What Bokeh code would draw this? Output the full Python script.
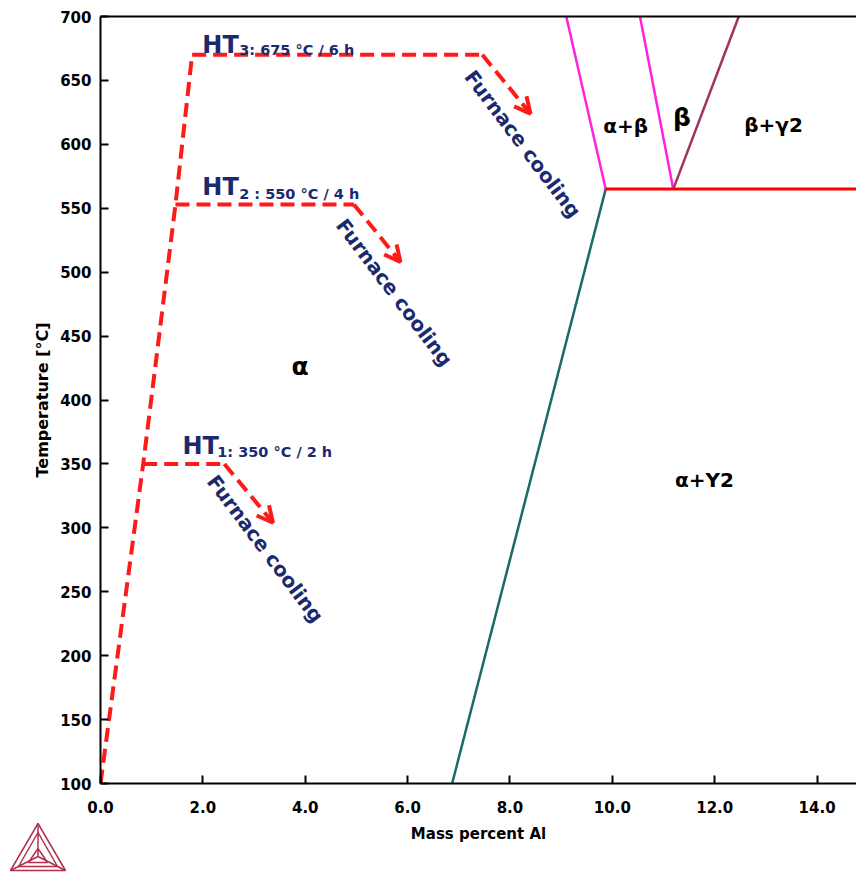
from bokeh.plotting import figure
from bokeh.models import (FixedTicker, LinearAxis, Range1d, Arrow, OpenHead,
                          ColumnDataSource)
from bokeh.layouts import column, row
from bokeh.core.properties import value
from bokeh.embed import file_html
from bokeh.resources import INLINE

# ---------------- data ----------------
x_ticks = [0, 2, 4, 6, 8, 10, 12, 14]
x_tick_labels = ["0.0", "2.0", "4.0", "6.0", "8.0", "10.0", "12.0", "14.0"]
y_ticks = [100, 150, 200, 250, 300, 350, 400, 450, 500, 550, 600, 650, 700]

# heat-treatment path (heating ramp)
ramp_x = [0.0, 0.834, 1.465, 1.79]
ramp_T = [100, 350, 553, 670]
# isothermal holds
hold_start_x = [0.834, 1.465, 1.79]
hold_end_x = [2.42, 4.95, 7.46]
hold_T = [350, 553, 670]
# furnace cooling arrows (end points)
cool_end_x = [3.37, 5.86, 8.40]
cool_end_T = [304, 508, 624]
ht_main = ["HT", "HT", "HT"]
ht_sub = ["1: 350 \u00b0C / 2 h", "2 : 550 \u00b0C / 4 h", "3: 675 \u00b0C / 6 h"]
cool_text = ["Furnace cooling", "Furnace cooling", "Furnace cooling"]

# phase boundaries
solvus_x = [6.87, 9.87]
solvus_T = [100, 565]
eutectoid_x = [9.87, 14.77]
eutectoid_T = [565, 565]
ab_left_x = [9.87, 9.10]
ab_left_T = [565, 700]
b_left_x = [11.19, 10.54]
b_left_T = [565, 700]
b_right_x = [11.19, 12.47]
b_right_T = [565, 700]

phase_labels = ["\u03b1", "\u03b1+\u03b2", "\u03b2", "\u03b2+\u03b32", "\u03b1+Y2"]
x_title = ["Mass percent Al"]

# ---------------- label placement ----------------
ht_main_pos_x = [1.60, 1.99, 1.99]
ht_main_pos_y = [363.8, 566.5, 677.9]
ht_sub_pos_x = [2.28, 2.71, 2.71]
ht_sub_pos_y = [359.1, 561.3, 673.5]
cool_pos_x = [3.22, 5.74, 8.25]
cool_pos_y = [283.6, 484.1, 600.3]
phase_pos_x = [3.90, 10.26, 11.36, 13.15, 11.80]
phase_pos_y = [426.2, 614.0, 621.1, 614.8, 337.7]
phase_sizes = ["25px", "20px", "25px", "20px", "20px"]

NAVY = "#1b2a6e"
RED = "#ff1a1a"
FONT = "DejaVu Sans"
W, H_MAIN, H_FOOT = 856, 822, 50

p = figure(width=W, height=H_MAIN, output_backend="svg", toolbar_location=None,
           x_range=Range1d(0, 14.77), y_range=Range1d(100, 700),
           min_border_left=100, min_border_right=0, min_border_top=16,
           min_border_bottom=39)
p.outline_line_color = None
p.xgrid.visible = False
p.ygrid.visible = False
p.background_fill_color = "white"
p.border_fill_color = "white"

for ax in (p.xaxis[0], p.yaxis[0]):
    ax.axis_line_width = 2
    ax.axis_line_color = "black"
    ax.major_tick_in = 8
    ax.major_tick_out = 0
    ax.major_tick_line_width = 2
    ax.minor_tick_line_color = None
    ax.major_label_text_font = FONT
    ax.major_label_text_font_style = "bold"
    ax.major_label_text_font_size = "15px"
    ax.major_label_text_color = "black"
    ax.axis_label_text_font = FONT
    ax.axis_label_text_font_style = "bold"
    ax.axis_label_text_color = "black"

p.xaxis.ticker = FixedTicker(ticks=x_ticks)
p.xaxis.major_label_overrides = {t: l for t, l in zip(x_ticks, x_tick_labels)}
p.xaxis.major_label_standoff = 17

p.yaxis.ticker = FixedTicker(ticks=y_ticks)
p.yaxis.major_label_standoff = 9
p.yaxis.axis_label = "Temperature [\u00b0C]"
p.yaxis.axis_label_text_font_size = "16px"
p.yaxis.axis_label_standoff = 5

top = LinearAxis(ticker=FixedTicker(ticks=[]), axis_line_width=2,
                 major_tick_line_color=None, minor_tick_line_color=None,
                 major_label_text_font_size="0px", major_label_standoff=0)
p.add_layout(top, "above")

# phase boundaries
p.line(solvus_x, solvus_T, line_color="#1b6a68", line_width=2.5)
p.line(ab_left_x, ab_left_T, line_color="#ff22dd", line_width=2.5)
p.line(b_left_x, b_left_T, line_color="#ff22dd", line_width=2.5)
p.line(b_right_x, b_right_T, line_color="#a3325f", line_width=2.5)
p.line(eutectoid_x, eutectoid_T, line_color="#ff0000", line_width=3)

# heat treatment path
dash = "14 7"
p.line(ramp_x, ramp_T, line_color=RED, line_width=4, line_dash=dash)
p.segment(hold_start_x, hold_T, hold_end_x, hold_T, line_color=RED,
          line_width=4, line_dash=dash)
arr_src = ColumnDataSource(dict(x0=hold_end_x, y0=hold_T, x1=cool_end_x, y1=cool_end_T))
p.add_layout(Arrow(source=arr_src, x_start="x0", y_start="y0", x_end="x1", y_end="y1",
                   line_color=RED, line_width=4, line_dash=dash,
                   end=OpenHead(size=16, line_color=RED, line_width=4)))

# texts
p.text(ht_main_pos_x, ht_main_pos_y, text=ht_main, text_font=value(FONT),
       text_font_style="bold", text_font_size="24px", text_color=NAVY,
       text_align="left", text_baseline="alphabetic")
p.text(ht_sub_pos_x, ht_sub_pos_y, text=ht_sub, text_font=value(FONT),
       text_font_style="bold", text_font_size="14.5px", text_color=NAVY,
       text_align="left", text_baseline="alphabetic")
p.text(cool_pos_x, cool_pos_y, text=cool_text, text_font=value(FONT),
       text_font_style="bold", text_font_size="20px", text_color=NAVY,
       text_align="center", text_baseline="middle", angle=-53, angle_units="deg")
p.text(phase_pos_x, phase_pos_y, text=phase_labels, text_font=value(FONT),
       text_font_style="bold", text_font_size=phase_sizes, text_color="black",
       text_align="center", text_baseline="middle")

# ---------------- footer: x-axis title and Thermo-Calc style logo (pixel units) ----------------
LOGO = "#b0304e"
logo_xs = [[37.5, 10, 65, 37.5], [37.5, 18, 57, 37.5], [37.5, 37.5],
           [37.5, 10], [37.5, 65], [37.5, 28, 47, 37.5]]
logo_ys = [[1, 48, 48, 1], [10, 44, 44, 10], [1, 34],
           [34, 48], [34, 48], [26, 40, 40, 26]]
foot = figure(width=W, height=H_FOOT, output_backend="svg", toolbar_location=None,
              x_range=Range1d(0, W), y_range=Range1d(H_FOOT, 0),
              x_axis_location=None, y_axis_location=None,
              min_border=0, min_border_left=0, min_border_right=0,
              min_border_top=0, min_border_bottom=0)
foot.outline_line_color = None
foot.xgrid.visible = False
foot.ygrid.visible = False
foot.multi_line(logo_xs, logo_ys, line_color=LOGO, line_width=1.5)
foot.text([478], [11], text=x_title, text_font=value(FONT), text_font_style="bold",
          text_font_size="15px", text_color="black", text_align="center",
          text_baseline="middle")

for fig in (p, foot):
    try:
        fig.frame_align = False
    except Exception:
        pass

layout = column(p, row(foot, spacing=0), spacing=0)

open("out.html", "w").write(file_html(layout, INLINE))
